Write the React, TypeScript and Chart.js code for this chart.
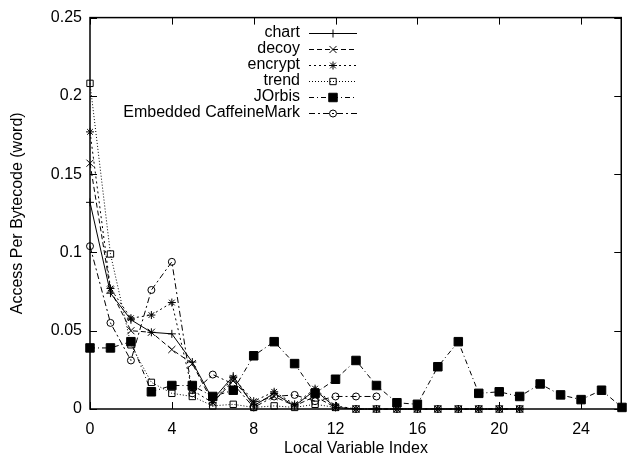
import React, { useEffect, useRef } from 'react';
import { Chart, registerables } from 'chart.js';
import { drawPoint } from 'chart.js/helpers';

Chart.register(...registerables);

const seriesNames = ['chart', 'decoy', 'encrypt', 'trend', 'JOrbis', 'Embedded CaffeineMark'];

const chartVals = [0.132, 0.074, 0.057, 0.049, 0.048, 0.030, 0.006, 0.021, 0.002, 0.010, 0.002, 0.012, 0.001, 0, 0, 0, 0, 0, 0, 0, 0, 0];
const decoyVals = [0.157, 0.076, 0.050, 0.049, 0.038, 0.029, 0.004, 0.018, 0.004, 0.008, 0.002, 0.008, 0.001, 0, 0, 0, 0, 0, 0, 0, 0, 0];
const encryptVals = [0.177, 0.077, 0.058, 0.060, 0.068, 0.012, 0.004, 0.020, 0.005, 0.011, 0.003, 0.013, 0.002, 0, 0, 0, 0, 0, 0, 0, 0, 0];
const trendVals = [0.208, 0.099, 0.041, 0.017, 0.010, 0.008, 0.002, 0.003, 0.001, 0.002, 0.001, 0.003, 0.001, 0, 0, 0, 0, 0, 0, 0, 0, 0];
const jorbisVals = [0.039, 0.039, 0.043, 0.011, 0.015, 0.015, 0.008, 0.012, 0.034, 0.043, 0.029, 0.010, 0.019, 0.031, 0.015, 0.004, 0.003, 0.027, 0.043, 0.010, 0.011, 0.008, 0.016, 0.009, 0.006, 0.012, 0.001];
const caffeineVals = [0.104, 0.055, 0.031, 0.076, 0.094, 0.010, 0.022, 0.016, 0.001, 0.008, 0.009, 0.005, 0.008, 0.008, 0.008];

const xTicks = [0, 4, 8, 12, 16, 20, 24];
const yTicks = [0, 0.05, 0.1, 0.15, 0.2, 0.25];

const FONT = '"Liberation Sans", Arial, sans-serif';

const toPoints = (vals: number[]) => vals.map((v, i) => ({ x: i, y: v }));

const styles = [
  { dash: [], pointStyle: 'cross', radius: 4, fill: 'rgba(0,0,0,0)' },
  { dash: [5, 3], pointStyle: 'crossRot', radius: 5, fill: 'rgba(0,0,0,0)' },
  { dash: [2, 3], pointStyle: 'star', radius: 4, fill: 'rgba(0,0,0,0)' },
  { dash: [1, 2], pointStyle: 'rect', radius: 4.5, fill: 'rgba(0,0,0,0)' },
  { dash: [5, 3, 1, 3], pointStyle: 'rect', radius: 6, fill: '#000' },
  { dash: [6, 3, 2, 3], pointStyle: 'circle', radius: 3.5, fill: 'rgba(0,0,0,0)' },
];

const allVals = [chartVals, decoyVals, encryptVals, trendVals, jorbisVals, caffeineVals];

const framePlugin = {
  id: 'frame',
  beforeDatasetsDraw(chart: any) {
    const { ctx, chartArea: a, scales } = chart;
    const xs = scales.x;
    const ys = scales.y;
    ctx.save();
    ctx.strokeStyle = '#000';
    ctx.lineWidth = 1.5;
    ctx.setLineDash([]);
    const L = a.left;
    const R = a.right - 0.75;
    const T = a.top;
    const B = a.bottom;
    ctx.strokeRect(L, T, R - L, B - T);
    ctx.lineWidth = 1;
    const tl = 7;
    ctx.beginPath();
    xTicks.forEach((t) => {
      const px = Math.round(xs.getPixelForValue(t)) + 0.5;
      ctx.moveTo(px, B);
      ctx.lineTo(px, B - tl);
      ctx.moveTo(px, T);
      ctx.lineTo(px, T + tl);
    });
    yTicks.forEach((t) => {
      const py = Math.round(ys.getPixelForValue(t)) + 0.5;
      ctx.moveTo(L, py);
      ctx.lineTo(L + tl, py);
      ctx.moveTo(R, py);
      ctx.lineTo(R - tl, py);
    });
    ctx.stroke();
    ctx.restore();
  },
};

const legendPlugin = {
  id: 'customLegend',
  afterDraw(chart: any) {
    const ctx = chart.ctx;
    ctx.save();
    chart.data.datasets.forEach((ds: any, i: number) => {
      const yy = 33 + i * 16;
      ctx.fillStyle = '#000';
      ctx.font = '16px ' + FONT;
      ctx.textAlign = 'right';
      ctx.textBaseline = 'middle';
      ctx.fillText(ds.label, 300, yy);
      ctx.strokeStyle = '#000';
      ctx.lineWidth = 1;
      ctx.setLineDash(ds.borderDash || []);
      ctx.beginPath();
      ctx.moveTo(309, Math.round(yy) + 0.5);
      ctx.lineTo(357, Math.round(yy) + 0.5);
      ctx.stroke();
      ctx.setLineDash([]);
      ctx.fillStyle = ds.pointBackgroundColor;
      ctx.strokeStyle = '#000';
      ctx.lineWidth = 1;
      drawPoint(ctx, { pointStyle: ds.pointStyle, radius: ds.pointRadius, rotation: 0, borderWidth: 1 } as any, 333, Math.round(yy) + 0.5);
    });
    ctx.restore();
  },
};

export default function App() {
  const ref = useRef<HTMLCanvasElement>(null);
  useEffect(() => {
    if (!ref.current) return;
    const datasets = seriesNames.map((name, i) => ({
      label: name,
      data: toPoints(allVals[i]),
      borderColor: '#000',
      borderWidth: 1,
      borderDash: styles[i].dash,
      pointStyle: styles[i].pointStyle,
      pointRadius: styles[i].radius,
      pointBorderColor: '#000',
      pointBorderWidth: 1,
      pointBackgroundColor: styles[i].fill,
      fill: false,
      tension: 0,
      clip: false as any,
    }));
    const chart = new Chart(ref.current, {
      type: 'line',
      data: { datasets } as any,
      options: {
        animation: false,
        responsive: false,
        layout: { padding: { top: 17, right: 0, left: 0, bottom: 0 } },
        plugins: { legend: { display: false }, tooltip: { enabled: false } },
        scales: {
          x: {
            type: 'linear',
            min: 0,
            max: 26,
            afterBuildTicks: (s: any) => {
              s.ticks = xTicks.map((v) => ({ value: v }));
            },
            afterFit: (s: any) => {
              s.height = 49;
            },
            grid: { display: false, drawTicks: false },
            border: { display: false },
            ticks: {
              padding: 11,
              color: '#000',
              font: { family: FONT, size: 16 },
              maxRotation: 0,
              autoSkip: false,
            },
            title: {
              display: true,
              text: 'Local Variable Index',
              color: '#000',
              font: { family: FONT, size: 16 },
              padding: { top: 0, bottom: 0 },
            },
          },
          y: {
            type: 'linear',
            min: 0,
            max: 0.25,
            afterBuildTicks: (s: any) => {
              s.ticks = yTicks.map((v) => ({ value: v }));
            },
            afterFit: (s: any) => {
              s.width = 90;
            },
            grid: { display: false, drawTicks: false },
            border: { display: false },
            ticks: {
              padding: 8,
              color: '#000',
              font: { family: FONT, size: 16 },
              callback: (v: any) => String(Number(Number(v).toFixed(2))),
            },
            title: {
              display: true,
              text: 'Access Per Bytecode (word)',
              color: '#000',
              font: { family: FONT, size: 16 },
              padding: { top: 8, bottom: 0 },
            },
          },
        },
      },
      plugins: [framePlugin, legendPlugin],
    });
    return () => chart.destroy();
  }, []);
  return (
    <div style={{ position: 'fixed', left: 0, top: 0, width: 629, height: 458, background: '#fff' }}>
      <canvas ref={ref} width={629} height={458} style={{ display: 'block' }} />
    </div>
  );
}
